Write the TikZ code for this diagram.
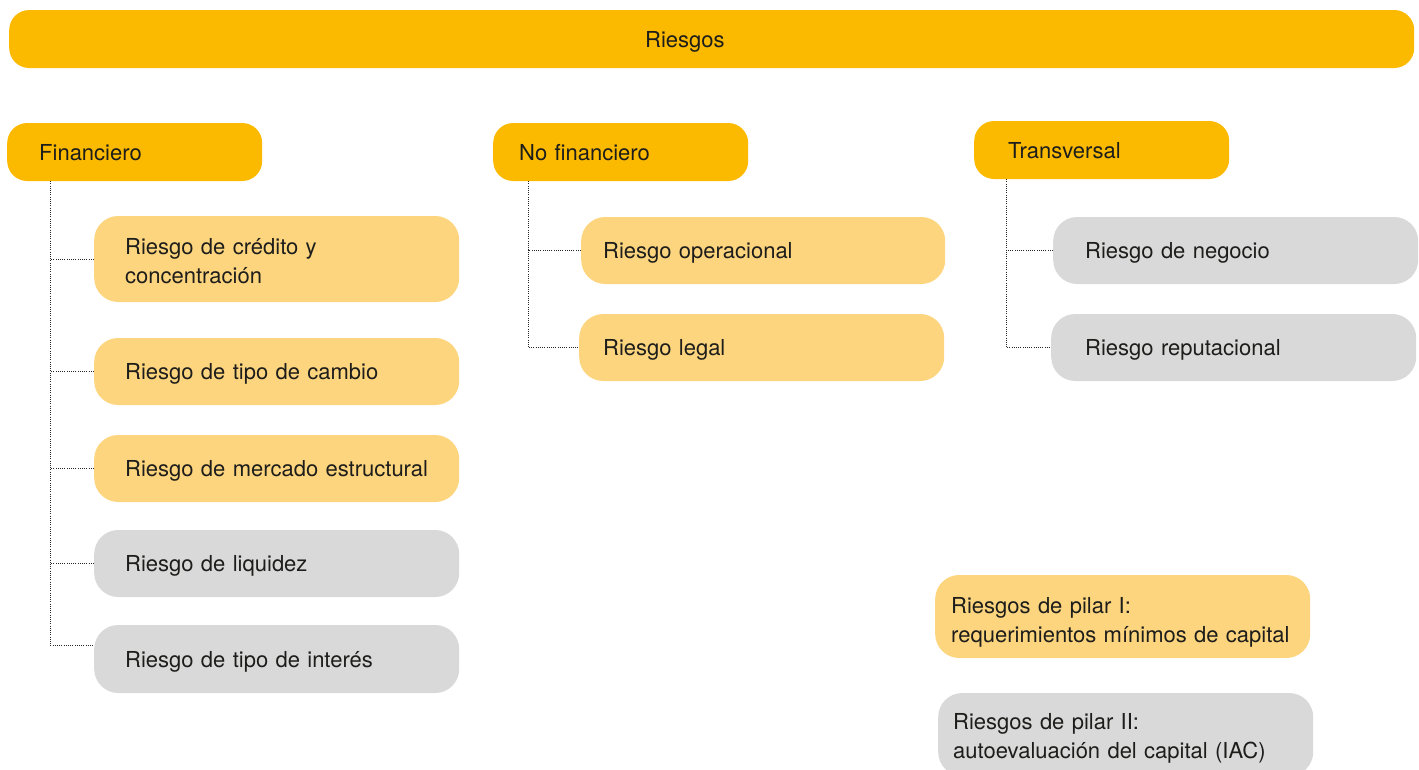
\documentclass[tikz,border=0pt]{standalone}
\usepackage{fontspec}
\setmainfont{TeX Gyre Heros}
\definecolor{dkyel}{HTML}{FBBA00}
\definecolor{ltyel}{HTML}{FDD57E}
\definecolor{gry}{HTML}{D9D9D9}
\definecolor{txt}{HTML}{1D1D1B}
\tikzset{
  base/.style={rounded corners=24pt, align=left, anchor=west, text=txt, inner ysep=0pt,
    text depth=0pt, font=\fontsize{22}{29}\selectfont},
  dark/.style={base, fill=dkyel, rounded corners=20pt},
  lite/.style={base, fill=ltyel},
  grey/.style={base, fill=gry},
  geo/.style n args={3}{minimum height=#1pt, inner xsep=#2pt, text width=#3pt},
  conn/.style={draw=black!85, line width=0.9pt, dash pattern=on 1pt off 1.2pt}
}
\begin{document}
\begin{tikzpicture}[x=1pt,y=-1pt]
\useasboundingbox (0,0) rectangle (1419,769);
\clip (0,0) rectangle (1419,769);
% top level
\node[dark, geo={58}{636}{133}] (root) at (9,39) {Riesgos};
\node[dark, geo={58}{32}{191}] (fin) at (7,152) {Financiero};
\node[dark, geo={58}{26}{203}] (nof) at (493,152) {No financiero};
\node[dark, geo={58}{34}{187}] (tra) at (974,150) {Transversal};
% financiero
\node[lite, geo={86}{31}{303}, text depth=25pt] (cred) at (94,259) {Riesgo de crédito y\\concentración};
\node[lite, geo={67}{31}{303}] (camb) at (94,371.5) {Riesgo de tipo de cambio};
\node[lite, geo={67}{31}{303}] (merc) at (94,468.5) {Riesgo de mercado estructural};
\node[grey, geo={67}{31}{303}] (liq) at (94,563.5) {Riesgo de liquidez};
\node[grey, geo={68}{31}{303}] (int) at (94,659) {Riesgo de tipo de interés};
% no financiero
\node[lite, geo={67}{22}{320}] (oper) at (581,250.5) {Riesgo operacional};
\node[lite, geo={67}{24}{317}] (legal) at (579,347.5) {Riesgo legal};
% transversal
\node[grey, geo={67}{32}{301}] (neg) at (1053,250.5) {Riesgo de negocio};
\node[grey, geo={67}{34}{297}] (rep) at (1051,347.5) {Riesgo reputacional};
% legend
\node[lite, geo={83}{16}{343}, text depth=21.5pt] (p1) at (935,616.5) {Riesgos de pilar I:\\requerimientos mínimos de capital};
\node[grey, geo={83}{15}{345}, text depth=25.5pt] (p2) at (938,734.5) {Riesgos de pilar II:\\autoevaluación del capital (IAC)};
% connectors
\coordinate (fx) at ([xshift=43pt]fin.south west);
\coordinate (nx) at ([xshift=35pt]nof.south west);
\coordinate (tx) at ([xshift=32pt]tra.south west);
\draw[conn] (fx) |- ([yshift=14pt]int.west);
\foreach \n in {cred,camb,merc,liq} \draw[conn] (\n.west) -- (\n.west -| fx);
\draw[conn] (nx) |- (legal.west);
\draw[conn] (oper.west) -- (oper.west -| nx);
\draw[conn] (tx) |- (rep.west);
\draw[conn] (neg.west) -- (neg.west -| tx);
\end{tikzpicture}
\end{document}
